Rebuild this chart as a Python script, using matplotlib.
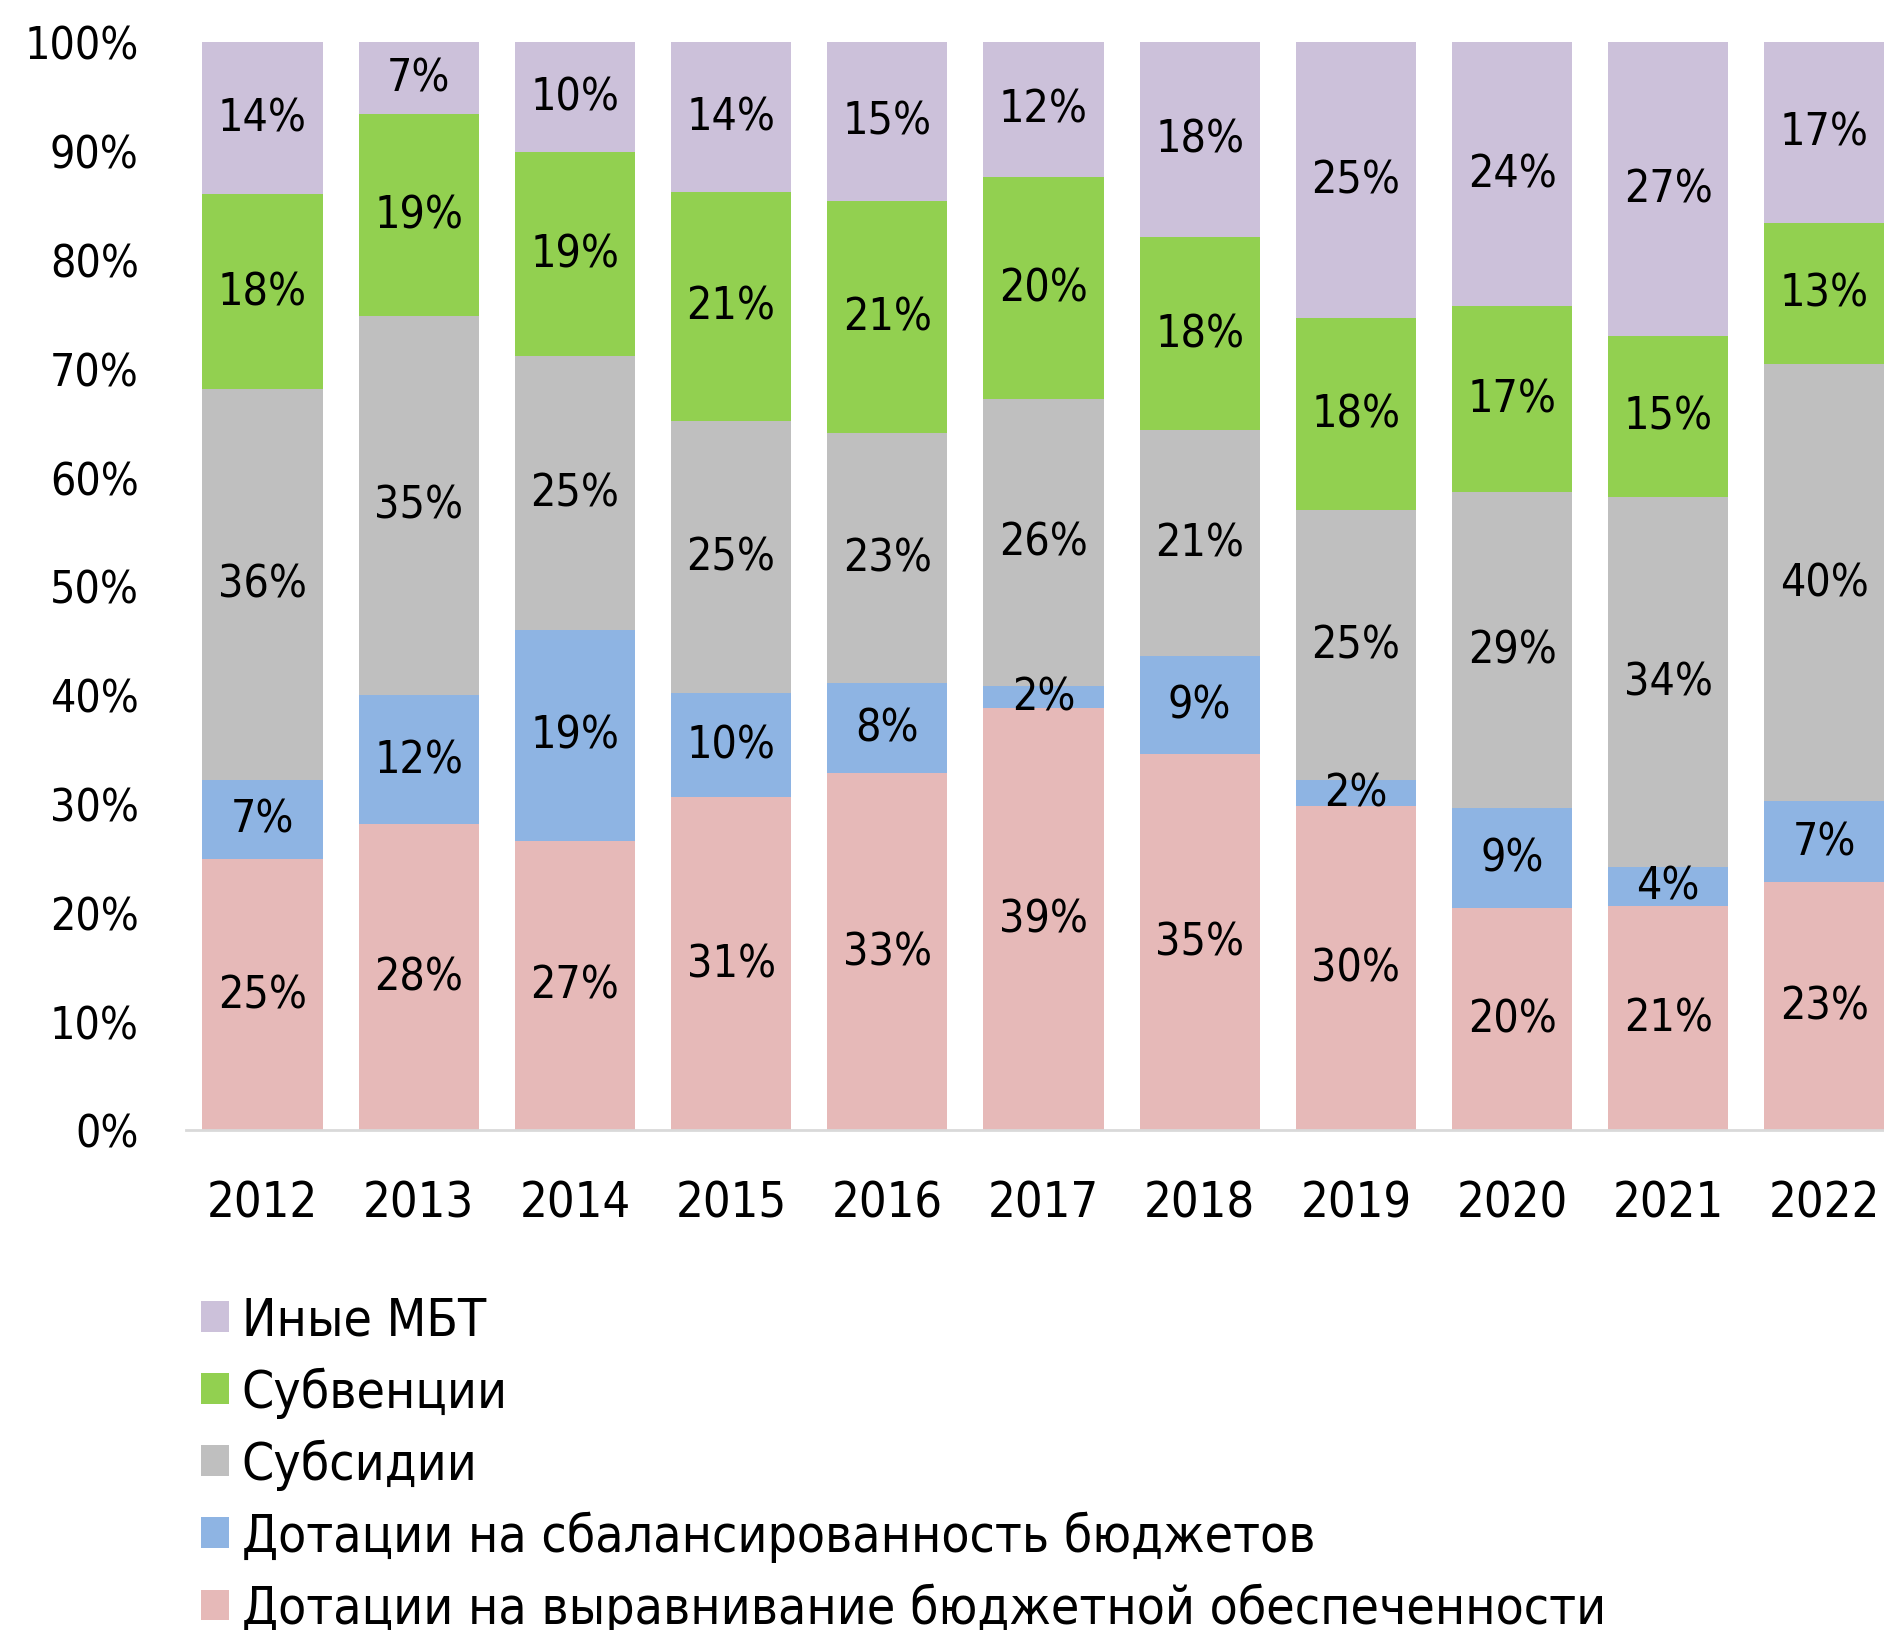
import matplotlib
matplotlib.use("Agg")
import matplotlib.pyplot as plt
import numpy as np

plt.rcParams['font.family'] = ['DejaVu Sans Condensed', 'DejaVu Sans']
plt.rcParams['font.stretch'] = 'condensed'

years = ["2012", "2013", "2014", "2015", "2016", "2017", "2018", "2019", "2020", "2021", "2022"]
series_names = [
    "Дотации на выравнивание бюджетной обеспеченности",
    "Дотации на сбалансированность бюджетов",
    "Субсидии",
    "Субвенции",
    "Иные МБТ",
]
equalization = [24.9, 28.1, 26.6, 30.6, 32.8, 38.8, 34.6, 29.8, 20.4, 20.6, 22.8]
balancing    = [7.3, 11.9, 19.4, 9.6, 8.3, 2.0, 9.0, 2.4, 9.2, 3.6, 7.4]
subsidies    = [35.9, 34.8, 25.1, 25.0, 23.0, 26.4, 20.7, 24.8, 29.0, 34.0, 40.2]
subventions  = [17.9, 18.6, 18.8, 21.0, 21.3, 20.4, 17.8, 17.6, 17.1, 14.8, 13.0]
other        = [14.0, 6.6, 10.1, 13.8, 14.6, 12.4, 17.9, 25.4, 24.3, 27.0, 16.6]
colors = ["#E6B9B8", "#8EB4E3", "#BFBFBF", "#92D050", "#CCC1DA"]
y_ticks = [0, 10, 20, 30, 40, 50, 60, 70, 80, 90, 100]

W, H = 1884, 1631
fig = plt.figure(figsize=(W / 100, H / 100), dpi=100)
ax = fig.add_axes([186 / W, 500 / H, 1715 / W, 1088 / H])

x = np.arange(len(years))
bottom = np.zeros(len(years))
handles = []
for vals, name, col in zip([equalization, balancing, subsidies, subventions, other], series_names, colors):
    vals = np.array(vals)
    bars = ax.bar(x, vals, 0.77, bottom=bottom, color=col, label=name, linewidth=0)
    ax.bar_label(bars, labels=[f"{round(v)}%" for v in vals], label_type='center',
                 fontsize=32, color='black')
    handles.append(bars)
    bottom += vals

ax.set_xlim(-0.49, 10.49)
ax.set_ylim(0, 100)
ax.set_xticks(x)
ax.set_xticklabels(years, fontsize=35)
ax.set_yticks(y_ticks)
ax.set_yticklabels([f"{t}%" for t in y_ticks], fontsize=32)
ax.tick_params(axis='both', length=0)
ax.tick_params(axis='y', pad=34)
ax.tick_params(axis='x', pad=35)
for s in ['top', 'right', 'left']:
    ax.spines[s].set_visible(False)
ax.spines['bottom'].set_color('#D9D9D9')
ax.spines['bottom'].set_linewidth(2)

leg = fig.legend(handles[::-1], series_names[::-1], loc='upper left',
                 bbox_to_anchor=(201 / W, 1 - 1297 / H), frameon=False,
                 fontsize=37, borderpad=0, borderaxespad=0, labelspacing=0.4,
                 handlelength=0.545, handleheight=0.545, handletextpad=0.25)

fig.savefig("out.png", dpi=100)
